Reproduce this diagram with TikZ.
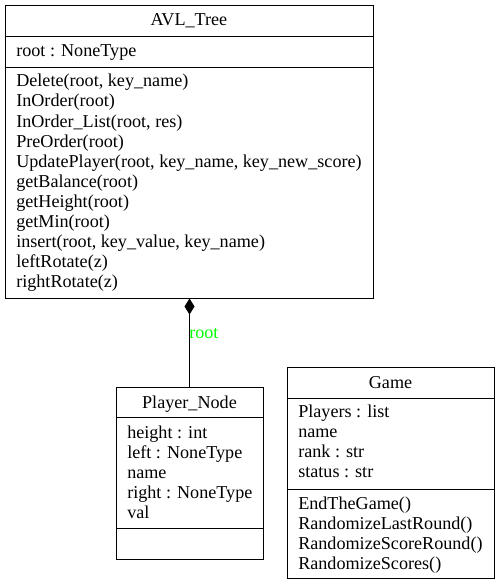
\documentclass[tikz,border=0pt]{standalone}
\usepackage{fontspec}
\setmainfont{Liberation Serif}
\usetikzlibrary{fit,arrows.meta}
\definecolor{lblgreen}{RGB}{0,255,0}
\begin{document}
\begin{tikzpicture}[x=0.75pt,y=-0.75pt,
  classbox/.style={draw,line width=0.75pt,inner sep=0pt},
  sepline/.style={line width=0.75pt},
  txt/.style={anchor=base west,inner sep=0pt,font=\fontsize{13.6pt}{15pt}\selectfont},
  ttl/.style={anchor=base,inner sep=0pt,font=\fontsize{13.6pt}{15pt}\selectfont}]
\useasboundingbox[fill=white] (0,0) rectangle (499,585);
% AVL_Tree
\node[classbox,fit={(5,6)(373,298)}] (avl) {};
\draw[sepline] (5,37) -- (373,37);
\draw[sepline] (5,68) -- (373,68);
\node[ttl] (avlt) at (189,26) {AVL\_Tree};
\node[txt] (a1) at (16,57) {root : NoneType};
\node[txt] (m1) at (16,87) {Delete(root, key\_name)};
\node[txt] (m2) at (16,107) {InOrder(root)};
\node[txt] (m3) at (16,127) {InOrder\_List(root, res)};
\node[txt] (m4) at (16,147) {PreOrder(root)};
\node[txt] (m5) at (16,167) {UpdatePlayer(root, key\_name, key\_new\_score)};
\node[txt] (m6) at (16,187) {getBalance(root)};
\node[txt] (m7) at (16,207) {getHeight(root)};
\node[txt] (m8) at (16,227) {getMin(root)};
\node[txt] (m9) at (16,247) {insert(root, key\_value, key\_name)};
\node[txt] (m10) at (16,267) {leftRotate(z)};
\node[txt] (m11) at (16,287) {rightRotate(z)};
% Player_Node
\node[classbox,fit={(116,387)(263,559)}] (pn) {};
\draw[sepline] (116,417) -- (263,417);
\draw[sepline] (116,528) -- (263,528);
\node[ttl] (pnt) at (189.5,408) {Player\_Node};
\node[txt] (p1) at (127,438) {height : int};
\node[txt] (p2) at (127,458) {left : NoneType};
\node[txt] (p3) at (127,478) {name};
\node[txt] (p4) at (127,498) {right : NoneType};
\node[txt] (p5) at (127,518) {val};
% Game
\node[classbox,fit={(287,367)(494,578)}] (game) {};
\draw[sepline] (287,398) -- (494,398);
\draw[sepline] (287,489) -- (494,489);
\node[ttl] (gt) at (390.5,388) {Game};
\node[txt] (g1) at (298,417) {Players : list};
\node[txt] (g2) at (298,437) {name};
\node[txt] (g3) at (298,457) {rank : str};
\node[txt] (g4) at (298,477) {status : str};
\node[txt] (g5) at (298,509) {EndTheGame()};
\node[txt] (g6) at (298,529) {RandomizeLastRound()};
\node[txt] (g7) at (298,549) {RandomizeScoreRound()};
\node[txt] (g8) at (298,569) {RandomizeScores()};
% composition
\draw[line width=0.75pt,-{Diamond[length=12pt,width=7.5pt]}] (pn.north) -- (pn.north |- avl.south);
\node[txt,text=lblgreen] (rl) at (189,338) {root};
\end{tikzpicture}
\end{document}
